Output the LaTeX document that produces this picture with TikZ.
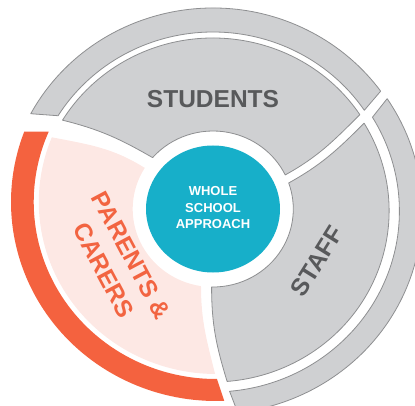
\documentclass[tikz,border=0pt]{standalone}
\usepackage{fontspec}
\setmainfont{Liberation Sans}
\usetikzlibrary{calc}
\definecolor{segfill}{HTML}{CFD0D2}
\definecolor{segline}{HTML}{8E8F91}
\definecolor{pinkfill}{HTML}{FDE8E4}
\definecolor{orangeband}{HTML}{F4623F}
\definecolor{orangetext}{HTML}{F26441}
\definecolor{bluefill}{HTML}{17AFC9}
\definecolor{labelgray}{HTML}{58595B}
\begin{document}
\begin{tikzpicture}[x=1pt,y=1pt,
  graypiece/.style={fill=segfill,draw=segline,line width=0.8pt,line join=round},
  pinkpiece/.style={fill=pinkfill},
  orangepiece/.style={fill=orangeband},
  biglabel/.style={inner sep=0pt,font=\fontsize{24.5}{31}\selectfont\bfseries,align=center},
  centrelabel/.style={inner sep=0pt,text=white,font=\fontsize{13}{16.5}\selectfont\bfseries,align=center}]
\useasboundingbox (0,0) rectangle (415,405);
\clip (0,0) rectangle (415,405);
\coordinate (O) at (213,196);
\coordinate (Cp) at (216,203);
\coordinate (Ct) at (213,194);
% corners
\coordinate (Sol) at ($(O)+(148.7:176.1 and 171)$);
\coordinate (Sil) at ($(O)+(138.8:80.3 and 78)$);
\coordinate (Sir) at ($(O)+(25.9:80.3 and 78)$);
\coordinate (Sor) at ($(O)+(33.5:176.1 and 171)$);
\coordinate (Tot) at ($(Ct)+(30.9:176.1 and 171)$);
\coordinate (Til) at ($(O)+(-91:80.3 and 78)$);
\coordinate (Pot) at ($(Cp)+(157.9:177.2 and 172)$);
\coordinate (Pib) at ($(O)+(261.4:80.3 and 78)$);
% outer bands
\path[graypiece] ($(O)+(151.7:207 and 201)$)
  arc[start angle=151.7,end angle=35.9,x radius=207,y radius=201]
  -- ($(O)+(33.9:182.3 and 177)$)
  arc[start angle=33.9,end angle=148.2,x radius=182.3,y radius=177] -- cycle;
\path[graypiece] ($(Ct)+(33.6:209.1 and 203)$)
  arc[start angle=33.6,end angle=-83.2,x radius=209.1,y radius=203]
  -- ($(Ct)+(-84.9:186.4 and 181)$)
  arc[start angle=-84.9,end angle=31.2,x radius=186.4,y radius=181] -- cycle;
\path[orangepiece] ($(Cp)+(159.3:205 and 199)$)
  arc[start angle=159.3,end angle=272.3,x radius=205,y radius=199]
  -- ($(Cp)+(270.3:182.3 and 177)$)
  arc[start angle=270.3,end angle=156.6,x radius=182.3,y radius=177] -- cycle;
% sectors
\path[graypiece] (Sor)
  arc[start angle=33.5,end angle=148.7,x radius=176.1,y radius=171]
  to[out=-14,in=150] (Sil)
  arc[start angle=138.8,end angle=25.9,x radius=80.3,y radius=78]
  to[out=29,in=225] (Sor) -- cycle;
\path[graypiece] (Tot)
  arc[start angle=30.9,end angle=-85.4,x radius=176.1,y radius=171]
  to[out=107,in=270] (Til)
  arc[start angle=-91,end angle=19.5,x radius=80.3,y radius=78]
  to[out=29,in=225] (Tot) -- cycle;
\path[pinkpiece] (Pot)
  arc[start angle=157.9,end angle=269.7,x radius=177.2,y radius=172]
  to[out=104,in=270] (Pib)
  arc[start angle=261.4,end angle=148.2,x radius=80.3,y radius=78]
  to[out=148,in=-11] (Pot) -- cycle;
% centre
\fill[bluefill] (O) ellipse[x radius=67,y radius=63.5];
\node[centrelabel] (whole) at (213,197) {WHOLE\\SCHOOL\\APPROACH};
\node[biglabel,text=labelgray] (students) at (213,306.3) {STUDENTS};
\node[biglabel,text=orangetext,rotate=-62] (parents) at (117.5,142) {PARENTS \&\\CARERS};
\node[biglabel,text=labelgray,rotate=58] (staff) at (317,143.5) {STAFF};
\end{tikzpicture}
\end{document}
